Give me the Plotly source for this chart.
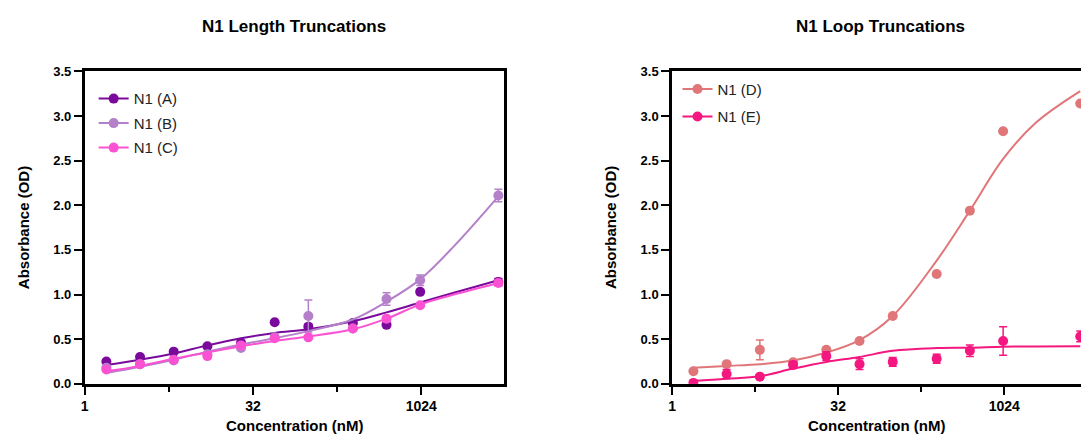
import math
import plotly.graph_objects as go

# ---------------- data ----------------
conc = [1.5625, 3.125, 6.25, 12.5, 25, 50, 100, 250, 500, 1000, 5000]
fit_conc = [1.5625, 3.125, 6.25, 12.5, 25, 50, 100, 250, 500, 1000, 2000, 5000]

a_vals = [0.25, 0.30, 0.36, 0.42, 0.46, 0.69, 0.64, 0.68, 0.66, 1.03, 1.14]
a_err = [0.01, 0.01, 0.01, 0.01, 0.01, 0.01, 0.03, 0.01, 0.01, 0.01, 0.04]
b_vals = [0.18, 0.22, 0.26, 0.33, 0.40, 0.52, 0.76, 0.62, 0.95, 1.16, 2.11]
b_err = [0.02, 0.02, 0.02, 0.02, 0.02, 0.02, 0.18, 0.02, 0.07, 0.06, 0.07]
c_vals = [0.16, 0.22, 0.27, 0.31, 0.43, 0.51, 0.52, 0.62, 0.73, 0.88, 1.13]
c_err = [0.01, 0.01, 0.01, 0.01, 0.01, 0.01, 0.01, 0.01, 0.02, 0.02, 0.03]

a_fit = [0.21, 0.27, 0.34, 0.43, 0.51, 0.57, 0.61, 0.70, 0.80, 0.91, 1.02, 1.16]
b_fit = [0.12, 0.19, 0.27, 0.36, 0.44, 0.51, 0.59, 0.72, 0.92, 1.17, 1.54, 2.10]
c_fit = [0.14, 0.20, 0.28, 0.35, 0.42, 0.48, 0.53, 0.61, 0.73, 0.89, 1.00, 1.13]

d_vals = [0.14, 0.22, 0.38, 0.24, 0.38, 0.48, 0.76, 1.23, 1.94, 2.83, 3.14]
d_err = [0.01, 0.01, 0.11, 0.03, 0.01, 0.01, 0.01, 0.01, 0.01, 0.01, 0.01]
e_vals = [0.01, 0.11, 0.08, 0.21, 0.31, 0.22, 0.245, 0.28, 0.37, 0.48, 0.53]
e_err = [0.01, 0.05, 0.02, 0.04, 0.05, 0.06, 0.05, 0.05, 0.065, 0.16, 0.06]

d_fit = [0.18, 0.20, 0.22, 0.26, 0.35, 0.49, 0.76, 1.38, 1.94, 2.52, 2.93, 3.28]
e_fit = [0.03, 0.055, 0.085, 0.17, 0.245, 0.30, 0.37, 0.40, 0.405, 0.415, 0.418, 0.42]

x_ticks = [1, 32, 1024]
x_tick_text = ["1", "32", "1024"]
x_minor = [5.657, 181.02]
y_ticks = [0.0, 0.5, 1.0, 1.5, 2.0, 2.5, 3.0, 3.5]

names_left = ["N1 (A)", "N1 (B)", "N1 (C)"]
names_right = ["N1 (D)", "N1 (E)"]
titles = ["N1 Length Truncations", "N1 Loop Truncations"]

col_a = "#7a0a9b"
col_b = "#b380c9"
col_c = "#fb52d4"
col_d = "#e0767a"
col_e = "#f3177f"

FONT = "Liberation Sans, Arial, sans-serif"

fig = go.Figure()


def add_series(name, vals, err, fit, color, xa, ya, legend):
    fig.add_trace(go.Scatter(
        x=fit_conc, y=fit, mode="lines", line=dict(color=color, width=2, shape="spline"),
        xaxis=xa, yaxis=ya, showlegend=False, hoverinfo="skip"))
    fig.add_trace(go.Scatter(
        x=conc, y=vals, mode="markers",
        marker=dict(color=color, size=10),
        error_y=dict(type="data", array=err, color=color, thickness=1.5, width=4),
        xaxis=xa, yaxis=ya, showlegend=False, name=name))
    # legend entry (line + marker symbol)
    fig.add_trace(go.Scatter(
        x=[None], y=[None], mode="lines+markers", name=name,
        line=dict(color=color, width=2), marker=dict(color=color, size=10),
        xaxis=xa, yaxis=ya, legend=legend, legendgroup=name))


for n, v, e, f, c in zip(names_left, [a_vals, b_vals, c_vals], [a_err, b_err, c_err],
                         [a_fit, b_fit, c_fit], [col_a, col_b, col_c]):
    add_series(n, v, e, f, c, "x", "y", "legend")
for n, v, e, f, c in zip(names_right, [d_vals, e_vals], [d_err, e_err],
                         [d_fit, e_fit], [col_d, col_e]):
    add_series(n, v, e, f, c, "x2", "y2", "legend2")

W, H = 1081, 442


def xaxis(domain, rng):
    return dict(
        domain=domain, type="log", range=rng, tickmode="array",
        tickvals=x_ticks, ticktext=x_tick_text, ticks="outside", ticklen=8,
        tickwidth=2, tickcolor="black", showline=True, linewidth=2.5, linecolor="black",
        mirror=True, showgrid=False, zeroline=False,
        tickfont=dict(family=FONT, size=14, color="black", weight="bold"),
        minor=dict(tickmode="array", tickvals=x_minor, ticks="outside", ticklen=5,
                   tickwidth=2, tickcolor="black", showgrid=False),
    )


def yaxis(anchor, mirror):
    return dict(
        domain=[1 - 390 / H, 1 - 66.7 / H], range=[0, 3.5], anchor=anchor,
        tickmode="array", tickvals=y_ticks, tickformat=".1f", ticks="outside",
        ticklen=8, tickwidth=2, tickcolor="black", showline=True, linewidth=2.5,
        linecolor="black", mirror=mirror, showgrid=False, zeroline=False,
        tickfont=dict(family=FONT, size=13, color="black", weight="bold"),
    )


left_range = [0, math.log10(2 ** 12.46)]
right_range = [0, math.log10(2 ** 12.31)]

fig.update_layout(
    width=W, height=H, margin=dict(l=0, r=0, t=0, b=0),
    plot_bgcolor="white", paper_bgcolor="white",
    font=dict(family=FONT, color="black"),
    xaxis=dict(**xaxis([81 / W, 502 / W], left_range), anchor="y"),
    yaxis=yaxis("x", True),
    xaxis2=dict(**xaxis([670.5 / W, 1.0], right_range), anchor="y2"),
    yaxis2=yaxis("x2", False),
    legend=dict(x=90 / W, y=1 - 78 / H, xanchor="left", yanchor="top",
                bgcolor="rgba(0,0,0,0)", font=dict(family=FONT, size=15, color="#222"),
                tracegroupgap=2),
    legend2=dict(x=676 / W, y=1 - 68 / H, xanchor="left", yanchor="top",
                 bgcolor="rgba(0,0,0,0)", font=dict(family=FONT, size=15, color="#222"),
                 tracegroupgap=5),
    showlegend=True,
)

annots = []
for t, cx in zip(titles, [291.5, 880]):
    annots.append(dict(text=t, x=cx / W, y=1 - 20 / H, xref="paper", yref="paper",
                       showarrow=False, xanchor="center", yanchor="middle",
                       font=dict(family=FONT, size=17, color="black", weight="bold")))
for cx in [291.5, 876]:
    annots.append(dict(text="Concentration (nM)", x=cx / W, y=1 - 433 / H, xref="paper",
                       yref="paper", showarrow=False, xanchor="center", yanchor="middle",
                       font=dict(family=FONT, size=15, color="black", weight="bold")))
for cx in [19, 609]:
    annots.append(dict(text="Absorbance (OD)", x=cx / W, y=1 - 228 / H, xref="paper",
                       yref="paper", showarrow=False, xanchor="center", yanchor="middle",
                       textangle=-90,
                       font=dict(family=FONT, size=15, color="black", weight="bold")))
fig.update_layout(annotations=annots)

fig.write_html("out.html")
